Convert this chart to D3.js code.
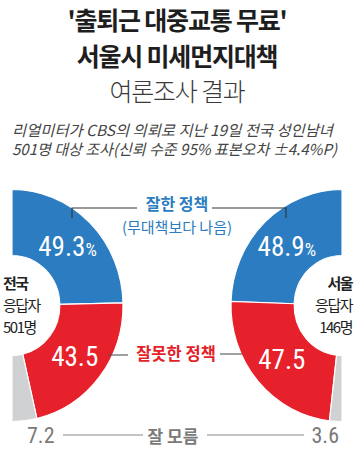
<!DOCTYPE html>
<html>
<head>
<meta charset="utf-8">
<script src="https://cdn.jsdelivr.net/npm/d3@7"></script>
<style>
  body { margin: 0; background: #fff; }
  svg { display: block; }
  .kr { font-family: "Noto Sans CJK KR", "Noto Sans", sans-serif; }
  .num { font-family: "Liberation Sans Narrow", "Roboto Condensed", Roboto, sans-serif; }
</style>
</head>
<body>
<div id="chart"></div>
<script>
// data
const titleLines = ["'출퇴근 대중교통 무료'", "서울시 미세먼지대책", "여론조사 결과"]
const noteLines = ["리얼미터가 CBS의 의뢰로 지난 19일 전국 성인남녀", "501명 대상 조사(신뢰 수준 95% 표본오차 ±4.4%P)"]
const categories = ["잘한 정책", "잘못한 정책", "잘 모름"]
const groups = ["전국", "서울"]
const respondents = ["501명", "146명"]
const nationwide = [49.3, 43.5, 7.2]
const seoul = [48.9, 47.5, 3.6]
const colors = ["#2b7cc1", "#e7212b", "#d0d1d3"]

const width = 354
const height = 458

const svg = d3.select("#chart").append("svg")
    .attr("width", width)
    .attr("height", height)

// titles
const titleG = svg.append("g").attr("class", "kr")
titleG.selectAll("text").data(titleLines)
  .join("text")
    .attr("x", width / 2)
    .attr("y", (d, i) => [30, 66, 101][i])
    .attr("text-anchor", "middle")
    .attr("font-size", 25)
    .attr("letter-spacing", -1.2)
    .attr("font-weight", (d, i) => i < 2 ? 700 : 300)
    .attr("fill", (d, i) => i < 2 ? "#1e1e1e" : "#3a3a3a")
    .text(d => d)

svg.append("g").attr("class", "kr")
  .selectAll("text").data(noteLines)
  .join("text")
    .attr("x", 12)
    .attr("y", (d, i) => 136 + i * 19)
    .attr("font-size", 15)
    .attr("font-style", "italic")
    .attr("fill", "#444")
    .attr("textLength", (d, i) => [321, 325][i])
    .attr("lengthAdjust", "spacingAndGlyphs")
    .text(d => d)

// donuts
const cy = 305.5
const rOuter = 116
const rInner = 50
const squeeze = 0.957
const arc = d3.arc().innerRadius(rInner).outerRadius(rOuter)
const labelArc = d3.arc().innerRadius(83).outerRadius(83)

const donuts = [
  { values: nationwide, cx: 12, end: Math.PI },
  { values: seoul, cx: 342, end: -Math.PI }
]

donuts.forEach((dn, k) => {
  const pie = d3.pie().sort(null).startAngle(0).endAngle(dn.end)
  const arcs = pie(dn.values)
  const g = svg.append("g")
      .attr("transform", `translate(${dn.cx},${cy}) scale(${squeeze},1)`)
  g.selectAll("path").data(arcs)
    .join("path")
      .attr("d", arc)
      .attr("fill", (d, i) => colors[i])
      .attr("stroke", "#fff")
      .attr("stroke-width", 1.2)

  // value labels inside the blue and red slices
  const lab = svg.append("g").attr("class", "num")
  lab.selectAll("text").data(arcs.slice(0, 2))
    .join("text")
      .attr("x", d => dn.cx + labelArc.centroid(d)[0] * squeeze)
      .attr("y", d => cy + labelArc.centroid(d)[1])
      .attr("dy", "0.36em")
      .attr("text-anchor", "middle")
      .attr("font-size", 27)
      .attr("fill", "#fff")
      .each(function(d, i) {
        const t = d3.select(this)
        t.append("tspan").text(d3.format(".1f")(d.value))
        if (i === 0) t.append("tspan").attr("font-size", 18).text("%")
      })
  // 'don't know' value below
  svg.append("text")
      .attr("class", "num")
      .attr("x", k === 0 ? 27 : 339)
      .attr("y", 443)
      .attr("text-anchor", k === 0 ? "start" : "end")
      .attr("font-size", 22)
      .attr("fill", "#7a7a7a")
      .text(d3.format(".1f")(dn.values[2]))

  // respondents
  const side = svg.append("text")
      .attr("class", "kr")
      .attr("font-size", 15)
      .attr("letter-spacing", -1.5)
      .attr("fill", "#222")
      .attr("text-anchor", k === 0 ? "start" : "end")
  const sx = k === 0 ? 3 : 352
  side.append("tspan").attr("x", sx).attr("y", 289).attr("font-weight", 700).text(groups[k])
  side.append("tspan").attr("x", sx).attr("y", 311).text("응답자")
  side.append("tspan").attr("x", sx).attr("y", 333).text(respondents[k])
})

// category labels and leaders
const lab = svg.append("g").attr("class", "kr")
lab.append("text")
    .attr("x", width / 2).attr("y", 210)
    .attr("text-anchor", "middle")
    .attr("font-size", 16).attr("font-weight", 700)
    .attr("fill", "#2b7cc1")
    .text(categories[0])
lab.append("text")
    .attr("x", width / 2).attr("y", 233)
    .attr("text-anchor", "middle")
    .attr("font-size", 15)
    .attr("fill", "#2b7cc1")
    .text("(무대책보다 나음)")
lab.append("text")
    .attr("x", width / 2 - 1).attr("y", 360)
    .attr("text-anchor", "middle")
    .attr("font-size", 16.5).attr("font-weight", 700)
    .attr("fill", "#e31f2a")
    .text(categories[1])
lab.append("text")
    .attr("x", width / 2 - 4).attr("y", 443)
    .attr("text-anchor", "middle")
    .attr("font-size", 17).attr("font-weight", 700)
    .attr("fill", "#7a7a7a")
    .text(categories[2])

const leaders = [
  { pts: [[72, 218], [72, 208], [137, 208]], c: "#333" },
  { pts: [[212, 208], [286, 208], [286, 218]], c: "#333" },
  { pts: [[108, 355], [128, 355]], c: "#555" },
  { pts: [[220, 354], [242, 354]], c: "#555" },
  { pts: [[63, 435], [143, 435]], c: "#888" },
  { pts: [[207, 435], [304, 435]], c: "#888" }
]
svg.append("g").selectAll("path").data(leaders)
  .join("path")
    .attr("d", d => d3.line()(d.pts))
    .attr("fill", "none")
    .attr("stroke", d => d.c)
    .attr("stroke-width", 1.1)
</script>
</body>
</html>
